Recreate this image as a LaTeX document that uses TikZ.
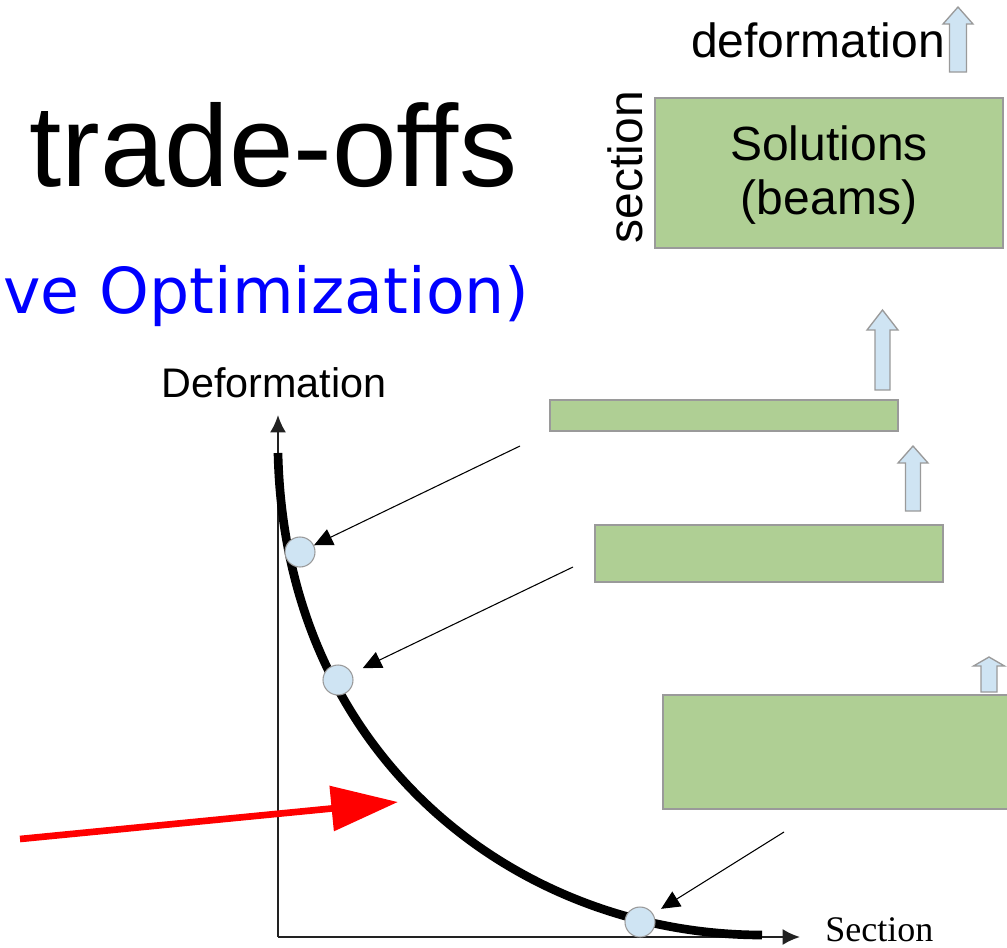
\documentclass[tikz,border=0pt]{standalone}
\usepackage{fontspec}
\setmainfont{Liberation Sans}
\newfontfamily\dejafont{DejaVu Sans}
\newfontfamily\seriffont{Liberation Serif}
\usetikzlibrary{arrows.meta}
\definecolor{boxgreen}{HTML}{AFCF94}
\definecolor{boxedge}{HTML}{9A9A9A}
\definecolor{ltblue}{HTML}{CFE4F3}
\definecolor{axisgray}{HTML}{222222}
\tikzset{
  greenbox/.style={fill=boxgreen, draw=boxedge, line width=1pt},
  blockarr/.style={fill=ltblue, draw=boxedge, line width=1pt, line join=miter},
  dot/.style={circle, minimum size=22.5pt, inner sep=0pt, fill=ltblue, draw=boxedge, line width=0.8pt},
  axisline/.style={draw=axisgray, line width=1.6pt, -{Latex[length=13pt,width=12pt]}},
  ptr/.style={draw=black, line width=0.8pt, -{Triangle[length=14pt,width=13pt]}},
  redarr/.style={draw=red, line width=5pt, -{Triangle[length=50pt,width=33pt]}, color=red},
  lbl/.style={inner sep=0pt, anchor=base west},
}
\newcommand{\upblock}[6]{%
  \draw[blockarr] (#1,#2) -- (#1+#5,#3) -- (#1+#6,#3) -- (#1+#6,#4) -- (#1-#6,#4) -- (#1-#6,#3) -- (#1-#5,#3) -- cycle;}
\begin{document}
\begin{tikzpicture}[x=0.75pt,y=-0.75pt]
\useasboundingbox (0,0) rectangle (1007,947);

% titles
\node[lbl, font=\fontsize{87}{90}\selectfont] (title) at (29,186) {trade-offs};
\node[lbl, text=blue, font=\dejafont\fontsize{47.5}{50}\selectfont] (subtitle) at (3,313) {ve Optimization)};

% top legend
\node[lbl, font=\fontsize{36}{40}\selectfont] (deflbl) at (691,57) {deformation};
\upblock{958}{7}{24}{72}{15}{8.5}
\node[inner sep=0pt, anchor=base, rotate=90, font=\fontsize{36}{40}\selectfont] (seclbl) at (642,167) {section};
\draw[greenbox] (655,98) rectangle (1003,248);
\node[align=center, inner sep=0pt, font=\fontsize{36}{41}\selectfont] (soltext) at (829,175) {Solutions\\(beams)};

% solution beams
\draw[greenbox] (550,400) rectangle (898,431);
\upblock{882.5}{310}{330}{390}{15.5}{7.5}
\draw[greenbox] (595,525) rectangle (943,582);
\upblock{913}{446}{463}{511}{15}{7.5}
\draw[greenbox] (663,695) rectangle (1008,809);
\upblock{989}{657}{666}{692}{15.5}{8}

% axes
\coordinate (o) at (278,937);
\coordinate (ytip) at (278,415);
\coordinate (xtip) at (800,937);
\draw[axisline] (o) -- (ytip);
\draw[axisline] (o) -- (xtip);
\node[lbl, font=\fontsize{31}{33}\selectfont] (ylbl) at (161,397) {Deformation};
\node[lbl, font=\seriffont\fontsize{27}{30}\selectfont] (xlbl) at (825,941) {Section};

% pareto curve
\coordinate (cstart) at (278,453);
\coordinate (cend) at (762,935);
\draw[line width=6.5pt, line cap=butt] (cstart) .. controls (285,760) and (520,935) .. (cend);

% points
\node[dot] (c1) at (300,552) {};
\node[dot] (c2) at (338,680) {};
\node[dot] (c3) at (640,922) {};

% pointers
\coordinate (s1) at (520,446);
\coordinate (s2) at (573,567);
\coordinate (s3) at (784,832);
\draw[ptr] (s1) -- (c1);
\draw[ptr, shorten >=9pt] (s2) -- (c2);
\draw[ptr, shorten >=7pt] (s3) -- (c3);

% red arrow
\coordinate (r0) at (20,839);
\coordinate (r1) at (398,802);
\draw[redarr] (r0) -- (r1);
\end{tikzpicture}
\end{document}
